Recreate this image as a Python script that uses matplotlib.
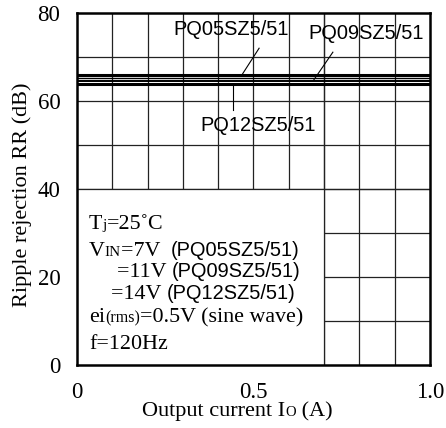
import matplotlib
matplotlib.use("Agg")
import matplotlib.pyplot as plt
from matplotlib.patches import Rectangle

# ripple rejection curves (flat over the current range)
current = [0.0, 1.0]
rr_lines = [65.8, 65.2, 64.6, 63.9]
rr_widths = [2.2, 1.0, 1.4, 2.2]

x_ticks = [0, 0.5, 1.0]
x_tick_labels = ["0", "0.5", "1.0"]
y_ticks = [0, 20, 40, 60, 80]

x_grid = [0.1, 0.2, 0.3, 0.4, 0.5, 0.6, 0.7, 0.8, 0.9]
y_grid = [10, 20, 30, 40, 50, 60, 70]

SERIF = "Liberation Serif"
SANS = "Liberation Sans"
FS = 15.8   # serif text size
FSS = 14.4  # sans text size

fig = plt.figure(figsize=(4.46, 4.28), dpi=100)
ax = fig.add_axes([0.1726, 0.1472, 0.7914, 0.8224])
ax.set_xlim(0, 1.0)
ax.set_ylim(0, 80)

# grid, drawn by hand so the condition box can hide part of it
gc = "#222222"
for gx in x_grid:
    ax.axvline(gx, color=gc, lw=0.9, zorder=1)
for gy in y_grid:
    ax.axhline(gy, color=gc, lw=0.9, zorder=1)
# white box for the conditions (covers the lower left grid)
ax.add_patch(Rectangle((0, 0), 0.7, 40, facecolor="white", edgecolor="none", zorder=2))
ax.axvline(0.7, color=gc, lw=0.9, zorder=3)
ax.axhline(40, color=gc, lw=0.9, zorder=3)

for val, w in zip(rr_lines, rr_widths):
    ax.plot(current, [val, val], color="black", lw=w, zorder=4)

for sp in ax.spines.values():
    sp.set_linewidth(1.8)
    sp.set_zorder(6)

ax.set_xticks(x_ticks)
ax.set_xticklabels(x_tick_labels)
ax.set_yticks(y_ticks)
ax.tick_params(length=0, labelsize=16.5, pad=12)
for lab in ax.get_xticklabels() + ax.get_yticklabels():
    lab.set_family(SERIF)

ax.set_ylabel("Ripple rejection RR (dB)", family=SERIF, fontsize=16)
ax.yaxis.set_label_coords(-0.128, 0.483)

# curve labels and leaders
lab_kw = dict(family=SANS, fontsize=FSS, ha="center", va="center", zorder=5)
ax.text(0.436, 76.3, "PQ05SZ5/51", **lab_kw)
ax.text(0.82, 75.3, "PQ09SZ5/51", **lab_kw)
ax.text(0.514, 54.5, "PQ12SZ5/51", **lab_kw)
ax.plot([0.516, 0.467], [72.0, 65.9], color="black", lw=0.8, zorder=5)
ax.plot([0.725, 0.671], [71.1, 64.8], color="black", lw=0.8, zorder=5)
ax.plot([0.442, 0.442], [63.4, 58.0], color="black", lw=0.8, zorder=5)

fig.canvas.draw()
renderer = fig.canvas.get_renderer()


def chain(axes, x, y, pieces):
    # draw text pieces one after the other on the same baseline
    px, py = axes.transData.transform((x, y))
    for txt, fam, size in pieces:
        t = axes.text(px, py, txt, family=fam, fontsize=size, ha="left",
                      va="baseline", transform=None, zorder=5)
        bb = t.get_window_extent(renderer)
        px += bb.width
    return px


chain(ax, 0.034, 31.0, [("T", SERIF, FS), ("j", SERIF, 11), ("=25˚C", SERIF, FS)])
chain(ax, 0.034, 24.8, [("V", SERIF, FS), ("IN", SERIF, 11), ("=7V  ", SERIF, FS),
                        ("(PQ05SZ5/51)", SANS, FSS)])
chain(ax, 0.113, 20.0, [("=11V ", SERIF, FS), ("(PQ09SZ5/51)", SANS, FSS)])
chain(ax, 0.096, 14.9, [("=14V ", SERIF, FS), ("(PQ12SZ5/51)", SANS, FSS)])
chain(ax, 0.034, 9.7, [("ei", SERIF, FS), ("(rms)", SERIF, 11.5), ("=0.5V (sine wave)", SERIF, FS)])
chain(ax, 0.034, 3.7, [("f=120Hz", SERIF, FS)])

# x label with small "O" subscript, sits a little left of the axes centre
ylab = 428 - 416
parts = [("Output current I", SERIF, 16), ("O", SERIF, 10.5), (" (A)", SERIF, 16)]
widths = []
for txt, fam, size in parts:
    t = fig.text(0, 0, txt, family=fam, fontsize=size)
    widths.append(t.get_window_extent(renderer).width)
    t.remove()
start = ax.transAxes.transform((0.5, 0))[0] - sum(widths) / 2 - 16
for (txt, fam, size), w in zip(parts, widths):
    fig.text(start, ylab, txt, family=fam, fontsize=size, ha="left", va="baseline",
             transform=None)
    start += w

fig.savefig("out.png", dpi=100)
